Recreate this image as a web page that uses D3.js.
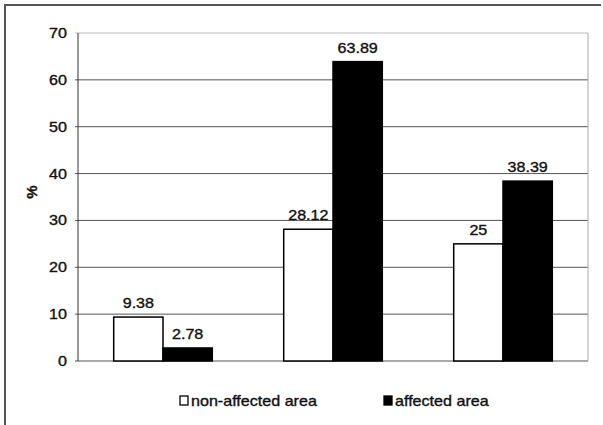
<!DOCTYPE html>
<html>
<head>
<meta charset="utf-8">
<script src="https://cdn.jsdelivr.net/npm/d3@7"></script>
<style>
  body { margin: 0; background: #fff; }
  text { font-family: "Liberation Sans", Arial, sans-serif; fill: #111; stroke: #111; stroke-width: 0.35; }
</style>
</head>
<body>
<div id="plot"></div>
<script>
// data
let groups = ['g1', 'g2', 'g3'];
let seriesNames = ['non-affected area', 'affected area'];
let nonAffected = [9.38, 28.12, 25];
let affected = [2.78, 63.89, 38.39];
let yTicks = [0, 10, 20, 30, 40, 50, 60, 70];
let seriesFill = ['#fff', '#000'];

window.addEventListener('load', main);

function main(){
  let [ W, H ] = [603, 425];
  let [ left, right, top, bottom ] = [78, 588, 33, 361];
  let sx = 1.15; // scanned text is stretched sideways
  let fs = 14;

  let svg = d3.select('#plot').append('svg')
              .attr('width', W).attr('height', H);

  // outer frame (only top and left survive the crop)
  svg.append('path')
     .attr('d', `M5,${H} L5,5 L601,5`)
     .attr('fill', 'none').attr('stroke', '#555').attr('stroke-width', 2);

  let y = d3.scaleLinear().domain([0, 70]).range([bottom, top]);
  let x0 = d3.scaleBand().domain(groups).range([left, right])
             .paddingInner(0.42).paddingOuter(0.21);
  let x1 = d3.scaleBand().domain(seriesNames).range([0, x0.bandwidth()]);

  // gridlines + ticks
  svg.append('g').selectAll('line').data(yTicks).join('line')
     .attr('x1', left - 3).attr('x2', right)
     .attr('y1', d => y(d)).attr('y2', d => y(d))
     .attr('stroke', d => d == 70 ? '#bbb' : '#555').attr('stroke-width', 1);

  // tick labels
  svg.append('g').selectAll('text').data(yTicks).join('text')
     .attr('transform', d => `translate(67,${y(d) + 5}) scale(${sx},1)`)
     .attr('text-anchor', 'end').attr('font-size', fs)
     .text(d => d);

  // axis line and right frame of plot area
  svg.append('line').attr('x1', left).attr('x2', left).attr('y1', top).attr('y2', bottom)
     .attr('stroke', '#333');
  svg.append('line').attr('x1', right).attr('x2', right).attr('y1', top).attr('y2', bottom)
     .attr('stroke', '#aaa');

  let rows = groups.map((g, i) => ({ g: g, vals: [nonAffected[i], affected[i]] }));

  let gg = svg.append('g').selectAll('g').data(rows).join('g')
              .attr('transform', d => `translate(${x0(d.g)},0)`);

  gg.selectAll('rect').data(d => d.vals.map((v, j) => ({ s: seriesNames[j], v: v, j: j })))
    .join('rect')
    .attr('x', d => x1(d.s)).attr('width', x1.bandwidth())
    .attr('y', d => y(d.v)).attr('height', d => y(0) - y(d.v))
    .attr('fill', d => seriesFill[d.j]).attr('stroke', '#000').attr('stroke-width', 1.5);

  gg.selectAll('text').data(d => d.vals.map((v, j) => ({ s: seriesNames[j], v: v })))
    .join('text')
    .attr('transform', d => `translate(${x1(d.s) + x1.bandwidth() / 2},${y(d.v) - 9}) scale(${sx},1)`)
    .attr('text-anchor', 'middle').attr('font-size', fs)
    .text(d => d.v);

  // y title
  svg.append('text')
     .attr('transform', 'translate(37,192) rotate(-90)')
     .attr('text-anchor', 'middle').attr('font-size', 15).attr('font-weight', 'bold')
     .text('%');

  // legend
  let legX = [180, 384];
  let leg = svg.append('g').selectAll('g').data(seriesNames).join('g')
               .attr('transform', (d, i) => `translate(${legX[i]},396)`);
  leg.append('rect').attr('width', 8).attr('height', 9)
     .attr('fill', (d, i) => seriesFill[i]).attr('stroke', '#000').attr('stroke-width', 1.3);
  leg.append('text')
     .attr('transform', `translate(11,10) scale(${sx},1)`)
     .attr('font-size', fs)
     .text(d => d);
}
</script>
</body>
</html>
